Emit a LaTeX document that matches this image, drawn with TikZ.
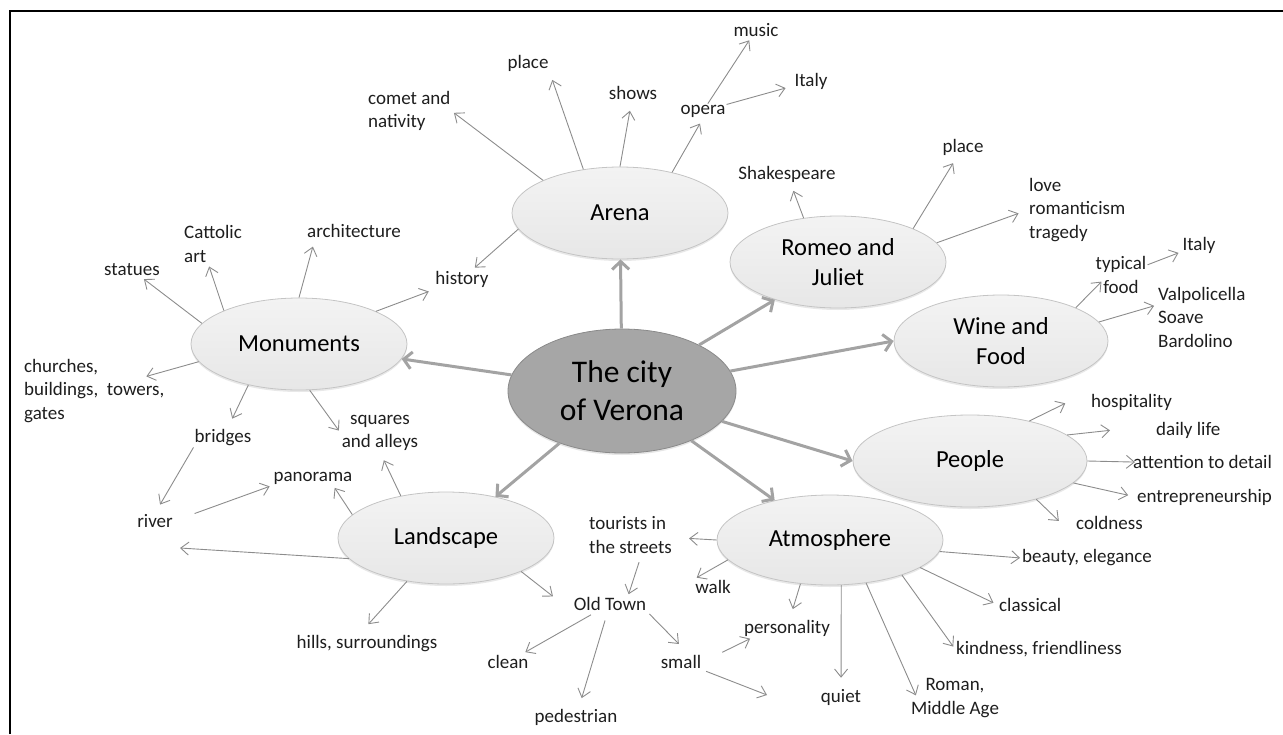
\documentclass[tikz,border=0pt]{standalone}
\usepackage{fontspec}
\setmainfont{Carlito}
\usepackage{tikz}
\usetikzlibrary{arrows.meta,shapes.geometric,shadows}
\definecolor{HubFill}{HTML}{A6A6A6}
\definecolor{HubDraw}{HTML}{8A8A8A}
\definecolor{TopicTop}{HTML}{F3F3F3}
\definecolor{TopicBottom}{HTML}{E7E7E7}
\definecolor{TopicDraw}{HTML}{C4C4C4}
\definecolor{LinkGray}{HTML}{8C8C8C}
\definecolor{SpokeGray}{HTML}{A3A3A3}
\definecolor{WordGray}{HTML}{1E1E1E}

\begin{document}
\begin{tikzpicture}[x=1pt, y=-1pt, every node/.style={font=\fontsize{19}{23.5}\selectfont, text=WordGray, inner sep=1pt}, hub/.style={ellipse, draw=HubDraw, fill=HubFill, line width=0.8pt, minimum width=228pt, minimum height=124pt, align=center, text=black, font=\fontsize{31.5}{38}\selectfont, drop shadow={shadow xshift=0pt, shadow yshift=-2pt, opacity=0.2}}, topic/.style={ellipse, draw=TopicDraw, top color=TopicTop, bottom color=TopicBottom, line width=0.8pt, minimum width=216pt, minimum height=92pt, align=center, text=black, font=\fontsize{24.5}{30}\selectfont, drop shadow={shadow xshift=0pt, shadow yshift=-2pt, opacity=0.18}}, spoke/.style={-{Straight Barb[length=8pt,width=17pt]}, line width=3pt, color=SpokeGray}, link/.style={-{Straight Barb[length=8pt,width=13pt]}, line width=0.9pt, color=LinkGray, shorten >=3pt}]
\useasboundingbox (0,0) rectangle (1283,734);
\draw[line width=2.5pt] (10,734) -- (10,11) -- (1283,11);

% centre and topics
\node[hub] (city) at (622,391) {The city\\of Verona};
\node[topic] (arena) at (620,213) {Arena};
\node[topic] (romeo) at (838,262) {Romeo and\\Juliet};
\node[topic, minimum width=214pt] (wine) at (1001,341) {Wine and\\Food};
\node[topic, minimum width=234pt] (people) at (970,461) {People};
\node[topic, minimum width=226pt, minimum height=90pt] (atmo) at (830,540) {Atmosphere};
\node[topic] (land) at (446,538) {Landscape};
\node[topic] (monu) at (299,344) {Monuments};

% Arena
\node[anchor=west, align=left] (comet) at (367,111) {comet and\\nativity};
\node (place1) at (528,63) {place};
\node (shows) at (633,93) {shows};
\node (opera) at (703,111) {opera};
\node (music) at (756,30) {music};
\node (italy1) at (811,81) {Italy};
\node (history) at (462,279) {history};
% Romeo and Juliet
\node (shakespeare) at (787,174) {Shakespeare};
\node (place2) at (963,147) {place};
\node[anchor=west, align=left] (love) at (1028,210) {love\\romanticism\\tragedy};
% Wine and Food
\node[align=center] (typical) at (1121,275) {typical\\food};
\node (italy2) at (1199,245) {Italy};
\node[anchor=west, align=left] (valpol) at (1157,317) {Valpolicella\\Soave\\Bardolino};
% People
\node[anchor=west] (hosp) at (1090,402) {hospitality};
\node[anchor=west] (daily) at (1155,430) {daily life};
\node[anchor=west] (detail) at (1132,462) {attention to detail};
\node[anchor=west] (entre) at (1136,497) {entrepreneurship};
\node[anchor=west] (cold) at (1075,523) {coldness};
% Atmosphere
\node[anchor=west, align=left] (tourists) at (588,535) {tourists in\\the streets};
\node (walk) at (713,587) {walk};
\node (person) at (787,628) {personality};
\node (quiet) at (841,697) {quiet};
\node[align=center] (roman) at (955,698) {Roman,\\Middle Age};
\node[anchor=west] (kind) at (955,649) {kindness, friendliness};
\node[anchor=west] (classical) at (998,605) {classical};
\node[anchor=west] (beauty) at (1021,558) {beauty, elegance};
% Old Town
\node (oldtown) at (610,604) {Old Town};
\node (clean) at (508,662) {clean};
\node (pedestrian) at (576,717) {pedestrian};
\node (small) at (681,662) {small};
\coordinate (smallEnd) at (767,695);
% Landscape
\node (panorama) at (313,478) {panorama};
\node[align=center] (squares) at (380,433) {squares\\and alleys};
\node (river) at (155,521) {river};
\coordinate (riverEnd) at (180,548);
\node (hills) at (367,644) {hills, surroundings};
\node (bridges) at (223,438) {bridges};
% Monuments
\node (statues) at (132,270) {statues};
\node[anchor=west, align=left] (cattolic) at (183,244) {Cattolic\\art};
\node (archi) at (354,231) {architecture};
\node[anchor=west, align=left] (churches) at (23,391) {churches,\\buildings,~ towers,\\gates};

% spokes from the centre
\draw[spoke] (city) -- (arena); \draw[spoke] (city) -- (romeo); \draw[spoke] (city) -- (wine.west); \draw[spoke] (city) -- (people.west);
\draw[spoke] (city) -- (atmo); \draw[spoke] (city) -- (land); \draw[spoke] (city) -- (monu);

% Arena links
\draw[link] (arena.157) -- (comet.east);
\draw[link, shorten >=8pt] (arena.130) -- (place1.south east);
\draw[link, shorten >=10pt] (arena.90) -- (shows);
\draw[link, shorten >=6pt] (arena.38) -- (opera.south);
\draw[link] (arena.189) -- (history);
\draw[link] (opera) -- (music); \draw[link, shorten >=8pt] (opera) -- (italy1);
% Romeo and Juliet links
\draw[link, shorten >=8pt] (romeo.128) -- (shakespeare);
\draw[link, shorten >=8pt] (romeo.24) -- (place2);
\draw[link, shorten >=10pt] (romeo.11) -- (love.west);
% Wine and Food links
\draw[link, shorten >=0pt] (wine.24) -- ([xshift=7pt,yshift=13pt]typical.south west);
\draw[link] (typical) -- (italy2);
\draw[link] (wine.11) -- (valpol.165);
% People links
\draw[link] (people.34) -- ([xshift=-22pt]hosp.west);
\draw[link] (people.15) -- ([xshift=-42pt]daily.west);
\draw[link, shorten >=-3pt] (people.0) -- (detail.west);
\draw[link, shorten >=8pt] (people.348) -- (entre.west);
\draw[link] (people.330) -- ([xshift=-14pt]cold.west);
% Atmosphere links
\draw[link, shorten >=16pt] (atmo.180) -- (tourists);
\draw[link] (atmo.191) -- (walk.north west);
\draw[link, shorten >=10pt] (atmo.236) -- (person);
\draw[link, shorten >=10pt] (atmo.284) -- (quiet);
\draw[link, shorten >=0pt] (atmo.310) -- ([xshift=6pt,yshift=-18pt]roman.north west);
\draw[link] (atmo.334) -- (kind.west);
\draw[link, shorten >=5pt] (atmo.343) -- (classical.west);
\draw[link, shorten >=1pt] (atmo.354) -- (beauty.west);
% Old Town links
\draw[link, shorten <=8pt, shorten >=2pt] ([xshift=11pt]tourists.south) -- ([xshift=18pt]oldtown.north);
\draw[link, shorten <=6pt, shorten >=4pt] (oldtown) -- (clean);
\draw[link, shorten <=9pt, shorten >=10pt] (oldtown) -- (pedestrian);
\draw[link, shorten <=3pt] (oldtown.south east) -- ([yshift=8pt]small.north);
\draw[link, shorten <=22pt] (small.east) -- ([xshift=10pt]person.south west);
\draw[link, shorten <=4pt, shorten >=0pt] (small.south east) -- (smallEnd);
% Landscape links
\draw[link] (land.166) -- ([xshift=20pt]panorama.south);
\draw[link, shorten >=9pt] (land.137) -- (squares.south);
\draw[link, shorten >=0pt] (land.192) -- (riverEnd);
\draw[link, shorten >=14pt] (land.228) -- ([xshift=-8pt]hills.north);
\draw[link, shorten >=25pt] (land.336) -- (oldtown.south west);
\draw[link, shorten >=10pt] (bridges.south west) -- (river.north);
\draw[link, shorten <=22pt] (river.east) -- (panorama.south west);
% Monuments links
\draw[link] (monu.168) -- (statues);
\draw[link] (monu.156) -- (cattolic.256);
\draw[link, shorten >=8pt] (monu.90) -- ([xshift=9pt]archi.south west);
\draw[link, shorten >=9pt] (monu.23) -- (history);
\draw[link, shorten >=-20pt] (monu.190) -- (churches);
\draw[link, shorten >=11pt] (monu.219) -- (bridges);
\draw[link] (monu.283) -- (squares.west);
\end{tikzpicture}
\end{document}
